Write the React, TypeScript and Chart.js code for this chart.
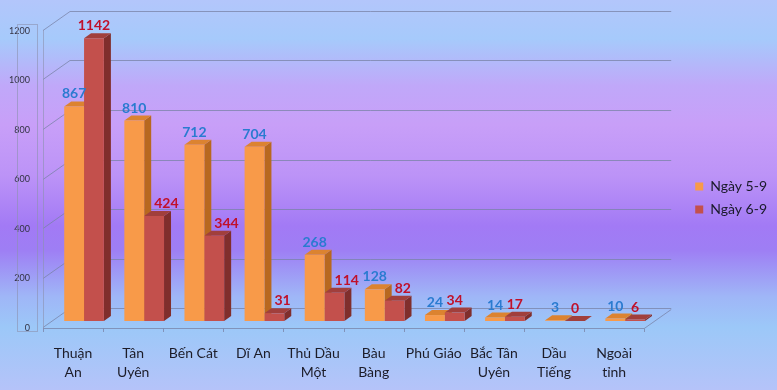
import React, { useEffect, useRef } from "react";
import { Chart, registerables } from "chart.js";

Chart.register(...registerables);

const categories: (string | string[])[] = [
  ["Thuận", "An"],
  ["Tân", "Uyên"],
  "Bến Cát",
  "Dĩ An",
  ["Thủ Dầu", "Một"],
  ["Bàu", "Bàng"],
  "Phú Giáo",
  ["Bắc Tân", "Uyên"],
  ["Dầu", "Tiếng"],
  ["Ngoài", "tỉnh"],
];
const seriesNames = ["Ngày 5-9", "Ngày 6-9"];
const day59 = [867, 810, 712, 704, 268, 128, 24, 14, 3, 10];
const day69 = [1142, 424, 344, 31, 114, 82, 34, 17, 0, 6];
const yMin = 0;
const yMax = 1200;
const yStep = 200;

const FRONT = ["#f89a49", "#c3504c"];
const TOP = ["#dc8330", "#a13f3c"];
const SIDE = ["#b8681f", "#802e2c"];
const LABEL = ["#2a7bd0", "#c0102a"];

const WALL_DX = 27;
const WALL_DY = -19;
const BAR_DX = 11;
const BAR_DY = -6;
const DEPTH_DX = 7;
const DEPTH_DY = -5;

const legendShift = {
  id: "legendShift",
  afterLayout(chart: any) {
    if (chart.legend) {
      chart.legend.top -= 12;
      chart.legend.bottom -= 12;
    }
  },
};

const frame3d = {
  id: "frame3d",
  beforeDatasetsDraw(chart: any) {
    const { ctx, chartArea } = chart;
    const y = chart.scales.y;
    const L = chartArea.left;
    const R = chartArea.right;
    const B = chartArea.bottom;
    ctx.save();
    ctx.lineWidth = 1;
    ctx.strokeStyle = "rgba(120,130,165,0.75)";
    for (let v = yMin; v <= yMax; v += yStep) {
      const py = Math.round(y.getPixelForValue(v)) + 0.5;
      ctx.beginPath();
      ctx.moveTo(L, py);
      ctx.lineTo(L + WALL_DX, py + WALL_DY);
      ctx.lineTo(R + WALL_DX, py + WALL_DY);
      ctx.stroke();
    }
    ctx.beginPath();
    ctx.moveTo(L, B + 1.5);
    ctx.lineTo(R, B + 1.5);
    ctx.lineTo(R + WALL_DX, B + 1.5 + WALL_DY);
    ctx.stroke();
    const n = categories.length;
    const step = (R - L) / n;
    for (let i = 0; i <= n; i++) {
      const px = Math.round(L + i * step) + 0.5;
      ctx.beginPath();
      ctx.moveTo(px, B + 1.5);
      ctx.lineTo(px, B + 5);
      ctx.stroke();
    }
    ctx.strokeStyle = "rgba(140,145,175,0.6)";
    const top = y.getPixelForValue(yMax);
    ctx.beginPath();
    ctx.moveTo(L + 0.5, top);
    ctx.lineTo(L + 0.5, B + 2);
    ctx.stroke();
    ctx.strokeRect(17.5, top - 5.5, 20, B - top + 10);
    ctx.restore();

    ctx.save();
    ctx.translate(BAR_DX, BAR_DY);
    for (let d = 0; d < chart.data.datasets.length; d++) {
      const meta = chart.getDatasetMeta(d);
      meta.data.forEach((bar: any) => {
        const { x: bx, y: by, base, width } = bar.getProps(["x", "y", "base", "width"], true);
        const l = bx - width / 2;
        const r = bx + width / 2;
        ctx.fillStyle = SIDE[d];
        ctx.beginPath();
        ctx.moveTo(r, by);
        ctx.lineTo(r + DEPTH_DX, by + DEPTH_DY);
        ctx.lineTo(r + DEPTH_DX, base + DEPTH_DY);
        ctx.lineTo(r, base);
        ctx.closePath();
        ctx.fill();
        ctx.fillStyle = TOP[d];
        ctx.beginPath();
        ctx.moveTo(l, by);
        ctx.lineTo(l + DEPTH_DX, by + DEPTH_DY);
        ctx.lineTo(r + DEPTH_DX, by + DEPTH_DY);
        ctx.lineTo(r, by);
        ctx.closePath();
        ctx.fill();
      });
    }
  },
  afterDatasetsDraw(chart: any) {
    const { ctx } = chart;
    ctx.font = "bold 14px Lato";
    ctx.textBaseline = "alphabetic";
    for (let d = 0; d < chart.data.datasets.length; d++) {
      const meta = chart.getDatasetMeta(d);
      const data = chart.data.datasets[d].data;
      meta.data.forEach((bar: any, i: number) => {
        const { x: bx, y: by, width } = bar.getProps(["x", "y", "width"], true);
        ctx.fillStyle = LABEL[d];
        const shifted = d === 1 && day59[i] > day69[i] + 20;
        if (shifted) {
          ctx.textAlign = "left";
          ctx.fillText(String(data[i]), bx - width / 2 + 10, by + DEPTH_DY - 3);
        } else {
          ctx.textAlign = "center";
          ctx.fillText(String(data[i]), bx, by + DEPTH_DY - 3);
        }
      });
    }
    ctx.restore();
  },
};

export default function App() {
  const ref = useRef<HTMLCanvasElement | null>(null);
  useEffect(() => {
    if (!ref.current) return;
    const chart = new Chart(ref.current, {
      type: "bar",
      data: {
        labels: categories,
        datasets: [
          {
            label: seriesNames[0],
            data: day59,
            backgroundColor: FRONT[0],
            borderWidth: 0,
            clip: false as any,
          },
          {
            label: seriesNames[1],
            data: day69,
            backgroundColor: FRONT[1],
            borderWidth: 0,
            clip: false as any,
          },
        ],
      },
      options: {
        animation: false,
        responsive: true,
        maintainAspectRatio: false,
        layout: { padding: { left: 0, right: 0, top: 30, bottom: 0 } },
        datasets: { bar: { categoryPercentage: 0.66, barPercentage: 1.0 } },
        plugins: {
          legend: {
            position: "right",
            labels: {
              boxWidth: 8,
              boxHeight: 8,
              padding: 9,
              color: "#1a1a2a",
              font: { family: "Lato", size: 14 },
            },
          },
          tooltip: { enabled: false },
        },
        scales: {
          x: {
            grid: { display: false },
            border: { display: false },
            ticks: {
              color: "#1c1c28",
              font: { family: "Lato", size: 14, lineHeight: 1.35 },
              padding: 9,
              maxRotation: 0,
              autoSkip: false,
            },
            afterFit: (s: any) => {
              s.height = 63;
            },
          },
          y: {
            min: yMin,
            max: yMax,
            grid: { display: false },
            border: { display: false },
            ticks: {
              stepSize: yStep,
              color: "#333344",
              font: { family: "Lato", size: 9 },
              padding: 5,
              labelOffset: 1,
              callback: (v: any) => String(v),
            },
            afterFit: (s: any) => {
              s.width = 43;
            },
          },
          yRight: {
            position: "right",
            display: true,
            grid: { display: false },
            border: { display: false },
            ticks: { display: false },
            afterFit: (s: any) => {
              s.width = 42;
            },
          },
        },
      },
      plugins: [frame3d, legendShift],
    });
    return () => chart.destroy();
  }, []);
  return (
    <div
      style={{
        position: "fixed",
        left: 0,
        top: 0,
        width: 777,
        height: 390,
        background:
          "linear-gradient(180deg, #b3c6fb 0%, #a6cafb 10%, #c0a8f9 22%, #c89ff8 32%, #bc93f7 45%, #a27af5 58%, #9e7ef4 64%, #9fb6f7 76%, #9cc8f8 84%, #b5c3f9 100%)",
      }}
    >
      <canvas ref={ref} width={777} height={390} />
    </div>
  );
}
